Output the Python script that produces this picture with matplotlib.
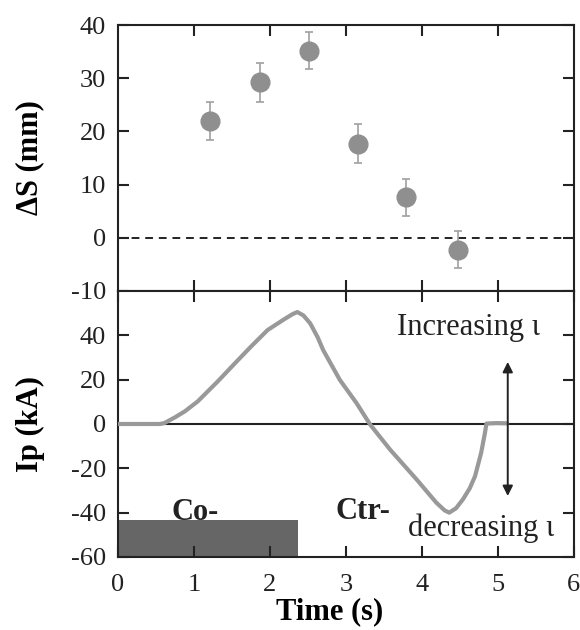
import matplotlib
matplotlib.use("Agg")
import matplotlib.pyplot as plt
from matplotlib.patches import Rectangle

plt.rcParams['font.family'] = ['Liberation Serif', 'DejaVu Serif']
plt.rcParams['axes.unicode_minus'] = False

# Top panel data: Delta S (mm)
t_pts = [1.21, 1.87, 2.51, 3.16, 3.79, 4.47]
ds_vals = [21.9, 29.2, 35.2, 17.7, 7.6, -2.2]
ds_err = [3.6, 3.7, 3.5, 3.6, 3.5, 3.5]

# Bottom panel data: plasma current Ip (kA)
t_ip = [0.0, 0.3, 0.55, 0.61, 0.75, 0.88, 1.05, 1.31, 1.54, 1.75, 1.97, 2.19, 2.30, 2.36,
        2.44, 2.53, 2.63, 2.70, 2.92, 3.14, 3.32, 3.58, 3.93, 4.19, 4.30, 4.36,
        4.45, 4.54, 4.63, 4.70, 4.78, 4.83, 4.85, 4.98, 5.12]
ip_vals = [0.0, 0.0, 0.0, 0.4, 3.0, 5.7, 10.2, 19.1, 27.4, 34.9, 42.4, 47.3, 49.6, 50.5,
           49.0, 45.4, 39.0, 33.4, 19.9, 9.4, -0.3, -11.5, -25.0, -35.5, -39.0, -40.0,
           -38.0, -34.0, -29.0, -23.5, -13.0, -4.0, 0.2, 0.4, 0.3]

xticks = [0, 1, 2, 3, 4, 5, 6]
ds_ticks = [-10, 0, 10, 20, 30, 40]
ip_ticks = [-60, -40, -20, 0, 20, 40]

co_start, co_end = 0.0, 2.37
rect_bottom, rect_top = -60, -43.5

fig = plt.figure(figsize=(5.8, 6.3), dpi=100)
ax1 = fig.add_axes([0.2034, 0.5381, 0.786, 0.4222])
ax2 = fig.add_axes([0.2034, 0.1159, 0.786, 0.4222])

gray = '#8f8f8f'
dark = '#222222'
fs = 19

for ax in (ax1, ax2):
    for sp in ax.spines.values():
        sp.set_linewidth(1.5)
        sp.set_color(dark)
    ax.tick_params(direction='in', length=8, width=1.5, top=True, right=True,
                   labelsize=fs, colors=dark)
    ax.tick_params(axis='y', pad=8.5)
    ax.set_xlim(0, 6)

ax1.yaxis.set_label_coords(-0.193, 0.54)
ax2.yaxis.set_label_coords(-0.193, 0.51)

# Top panel
ax1.errorbar(t_pts, ds_vals, yerr=ds_err, fmt='o', color=gray, ecolor='#a0a0a0',
             markersize=13.5, capsize=3, elinewidth=1.2, capthick=1.2, zorder=3)
ax1.axhline(0, color=dark, linestyle=(0, (4, 3)), linewidth=1.4)
ax1.set_ylim(-10, 40)
ax1.set_yticks(ds_ticks)
ax1.set_xticks([1, 2, 3, 4, 5])
ax1.set_xticklabels([])
ax1.set_ylabel('ΔS (mm)', fontsize=22, fontweight='bold', va='center')

# Bottom panel
ax2.add_patch(Rectangle((co_start, rect_bottom), co_end - co_start, rect_top - rect_bottom,
                        facecolor='#666666', edgecolor='none', zorder=1))
ax2.axhline(0, color=dark, linewidth=1.5, zorder=2)
ax2.plot(t_ip, ip_vals, color='#999999', linewidth=3, zorder=3,
         solid_capstyle='round', solid_joinstyle='round')
ax2.set_ylim(-60, 60)
ax2.set_yticks(ip_ticks)
ax2.set_xticks(xticks)
ax2.set_xticklabels([str(v) for v in xticks])
ax2.tick_params(axis='x', pad=12)
ax2.set_ylabel('Ip (kA)', fontsize=22, fontweight='bold', va='center')
ax2.set_xlabel('Time (s)', fontsize=22, fontweight='bold', va='center')
ax2.xaxis.set_label_coords(0.465, -0.207)

ax2.text(0.71, -43.3, 'Co-', fontsize=22, fontweight='bold', ha='left', va='baseline', color=dark)
ax2.text(2.86, -43.0, 'Ctr-', fontsize=22, fontweight='bold', ha='left', va='baseline', color=dark)
ax2.text(3.67, 40, 'Increasing ι', fontsize=22, ha='left', va='baseline', color=dark)
ax2.text(3.82, -50.5, 'decreasing ι', fontsize=22, ha='left', va='baseline', color=dark)
ax2.annotate('', xy=(5.13, 28), xytext=(5.13, -32.5),
             arrowprops=dict(arrowstyle='<|-|>', color=dark, lw=1.4, mutation_scale=15,
                             shrinkA=0, shrinkB=0))

fig.savefig('out.png', dpi=100)
